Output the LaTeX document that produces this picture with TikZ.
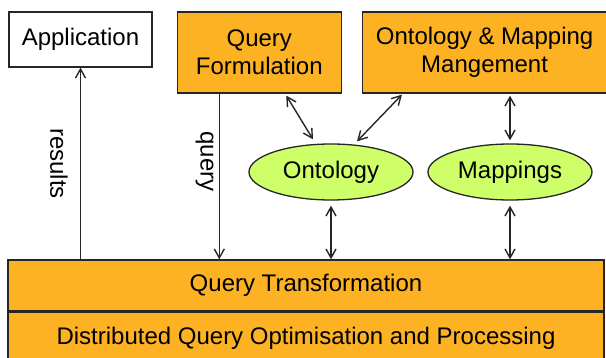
\documentclass[tikz,border=0pt]{standalone}
\usepackage{fontspec}
\setmainfont{Liberation Sans}
\usetikzlibrary{positioning,shapes.geometric,arrows.meta}
\definecolor{boxorange}{RGB}{252,178,35}
\definecolor{ellgreen}{RGB}{206,255,104}

\begin{document}
\begin{tikzpicture}
  [ x=1pt, y=-1pt
  , font=\fontsize{24}{28}\selectfont
  , plain/.style={draw=black!85, line width=1.3pt, shape=rectangle, align=center, inner sep=0pt}
  , comp/.style={plain, fill=boxorange}
  , layer/.style={comp, minimum width=596pt, minimum height=51pt}
  , store/.style={draw=black!85, line width=1.3pt, shape=ellipse, fill=ellgreen,
                  minimum width=164pt, minimum height=56pt, inner sep=0pt}
  , link/.style={draw=black!85, line width=1.4pt, {Straight Barb[length=9pt,width=10pt]}-{Straight Barb[length=9pt,width=10pt]}}
  , flow/.style={draw=black!85, line width=1.4pt, -{Straight Barb[length=9pt,width=10pt]}}
  , lbl/.style={rotate=-90, anchor=north}
  ]

  \useasboundingbox (0,0) rectangle (606,358);

  \node[plain, minimum width=143pt, minimum height=55pt] (app) at (80.5,39.5) {Application};
  \node[comp, minimum width=164pt, minimum height=81pt, anchor=north west]
       (qf) at ([xshift=24pt]app.north east) {Query\\Formulation};
  \node[comp, minimum width=244pt, minimum height=81pt, anchor=north west]
       (omm) at ([xshift=20pt]qf.north east) {Ontology \& Mapping\\Mangement};

  \node[store] (onto) at (331,172) {Ontology};
  \node[store] (mapp) at (510,172) {Mappings};

  \node[layer]                (qt)   at (306,285.5) {Query Transformation};
  \node[layer, below=0pt of qt] (dqop) {Distributed Query Optimisation and Processing};

  \coordinate (qsrc) at ([xshift=-40pt]qf.south);

  \draw[flow] (app.south |- qt.north) -- node[lbl, inner sep=12pt] (reslbl) {results} (app.south);
  \draw[flow] (qsrc) -- node[lbl, pos=0.41, inner sep=5pt] (qrylbl) {query} (qsrc |- qt.north);

  \draw[link] ([xshift=27pt,yshift=-2pt]qf.south) -- ([xshift=-18pt,yshift=4pt]onto.north);
  \draw[link] ([xshift=40pt,yshift=-1pt]omm.south west) -- ([xshift=26pt,yshift=2pt]onto.north);
  \draw[link, shorten <=2pt, shorten >=3pt] (mapp.north |- omm.south) -- (mapp.north);

  \draw[link, shorten <=5pt] (onto.south) -- (onto.south |- qt.north);
  \draw[link, shorten <=5pt] (mapp.south) -- (mapp.south |- qt.north);

\end{tikzpicture}
\end{document}
